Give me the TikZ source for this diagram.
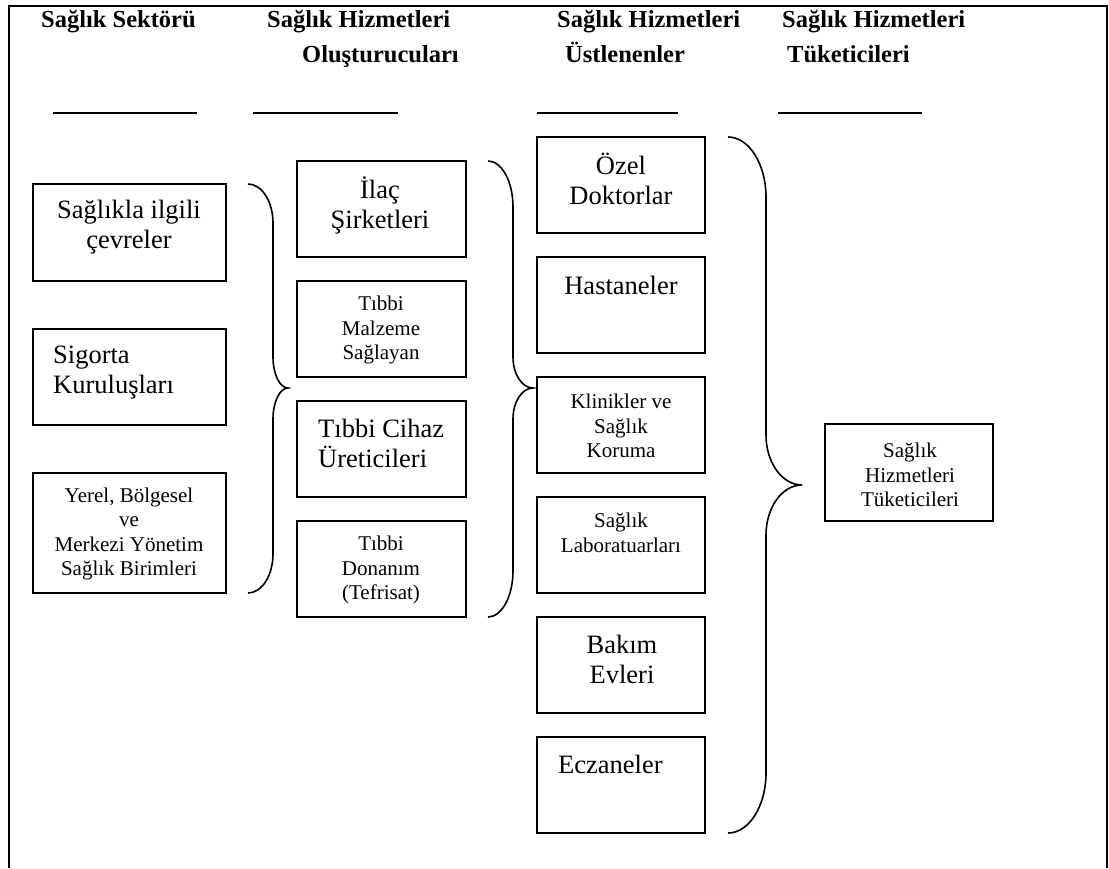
\documentclass[tikz,border=0pt]{standalone}
\usepackage{fontspec}
\setmainfont{Liberation Serif}
\begin{document}
\begin{tikzpicture}[x=1pt,y=-1pt,
  frame/.style={line width=2pt},
  rule/.style={line width=1.8pt},
  box/.style={draw,line width=1.5pt,rectangle,inner sep=0pt},
  colbox/.style={box,minimum width=169pt,minimum height=96pt},
  head/.style={font=\fontsize{24.5}{35}\selectfont\bfseries,inner sep=0pt,anchor=base west},
  big/.style={font=\fontsize{26.5}{30}\selectfont,align=center,inner sep=0pt},
  small/.style={font=\fontsize{21}{24.5}\selectfont,align=center,inner sep=0pt},
  bracepath/.style={line width=1.6pt}]
\useasboundingbox (0,0) rectangle (1109,868);

% open frame around the chart
\draw[frame] (9,868) -- (9,6) -- (1107,6) -- (1107,868);

% column headings
\node[head] (h1)  at (41,27)  {Sağlık Sektörü};
\node[head] (h2a) at (267,27) {Sağlık Hizmetleri};
\node[head] (h2b) at (302,62) {Oluşturucuları};
\node[head] (h3a) at (557,27) {Sağlık Hizmetleri};
\node[head] (h3b) at (565,62) {Üstlenenler};
\node[head] (h4a) at (782,27) {Sağlık Hizmetleri};
\node[head] (h4b) at (787,62) {Tüketicileri};

% rules under the headings
\coordinate (r1a) at (53,113);  \coordinate (r1b) at (197,113);
\coordinate (r2a) at (253,113); \coordinate (r2b) at (398,113);
\coordinate (r3a) at (537,113); \coordinate (r3b) at (678,113);
\coordinate (r4a) at (778,113); \coordinate (r4b) at (922,113);
\draw[rule] (r1a) -- (r1b);
\draw[rule] (r2a) -- (r2b);
\draw[rule] (r3a) -- (r3b);
\draw[rule] (r4a) -- (r4b);

% health sector
\node[box,minimum width=193pt,minimum height=97pt]  (s1) at (129.5,232.5) {};
\node[box,minimum width=193pt,minimum height=96pt]  (s2) at (129.5,377) {};
\node[box,minimum width=193pt,minimum height=120pt] (s3) at (129.5,533) {};
\node[big] (s1t) at (129,227) {Sağlıkla ilgili\\çevreler};
\node[big,align=left,anchor=west] (s2t) at (53,373) {Sigorta\\Kuruluşları};
\node[small] (s3t) at (129,534) {Yerel, Bölgesel\\ve\\Merkezi Yönetim\\Sağlık Birimleri};

% producers
\node[colbox] (p1) at (381.5,209) {};
\node[colbox] (p2) at (381.5,329) {};
\node[colbox] (p3) at (381.5,449) {};
\node[colbox] (p4) at (381.5,569) {};
\node[big]   (p1t) at (380,205) {İlaç\\Şirketleri};
\node[small] (p2t) at (381,330) {Tıbbi\\Malzeme\\Sağlayan};
\node[big,align=left,anchor=west] (p3t) at (318,443) {Tıbbi Cihaz\\Üreticileri};
\node[small] (p4t) at (381,570) {Tıbbi\\Donanım\\(Tefrisat)};

% providers
\node[colbox,minimum width=168pt] (u1) at (621,185) {};
\node[colbox,minimum width=168pt] (u2) at (621,305) {};
\node[colbox,minimum width=168pt] (u3) at (621,425) {};
\node[colbox,minimum width=168pt] (u4) at (621,545) {};
\node[colbox,minimum width=168pt] (u5) at (621,665) {};
\node[colbox,minimum width=168pt] (u6) at (621,785) {};
\node[big]   (u1t) at (621,179) {Özel\\Doktorlar};
\node[big]   (u2t) at (621,285) {Hastaneler};
\node[small] (u3t) at (621,426) {Klinikler ve\\Sağlık\\Koruma};
\node[small] (u4t) at (621,533) {Sağlık\\Laboratuarları};
\node[big]   (u5t) at (622,659) {Bakım\\Evleri};
\node[big,anchor=west] (u6t) at (558,764) {Eczaneler};

% consumers
\node[box,minimum width=168pt,minimum height=97pt] (c1) at (909,472.5) {};
\node[small] (c1t) at (910,475) {Sağlık\\Hizmetleri\\Tüketicileri};

% right-facing curly braces:
% end x, spine x, tip x, top y, tip y, bottom y, end curl height, tip curl height
\newcommand\groupbrace[8]{%
  \draw[bracepath] (#1,#4)
    .. controls ({#1+0.552*(#2-#1)},#4) and (#2,{#4+0.45*#7}) .. (#2,{#4+#7})
    -- (#2,{#5-#8})
    .. controls (#2,{#5-0.45*#8}) and ({#3-0.552*(#3-#2)},#5) .. (#3,#5)
    .. controls ({#3-0.552*(#3-#2)},#5) and (#2,{#5+0.45*#8}) .. (#2,{#5+#8})
    -- (#2,{#6-#7})
    .. controls (#2,{#6-0.45*#7}) and ({#1+0.552*(#2-#1)},#6) .. (#1,#6);}
\groupbrace{248}{273}{288}{184}{388}{593}{39}{31}
\groupbrace{488}{513}{533}{161}{388}{617}{46}{31}
\groupbrace{728}{766}{802}{137}{485}{833}{60}{50}
\end{tikzpicture}
\end{document}
